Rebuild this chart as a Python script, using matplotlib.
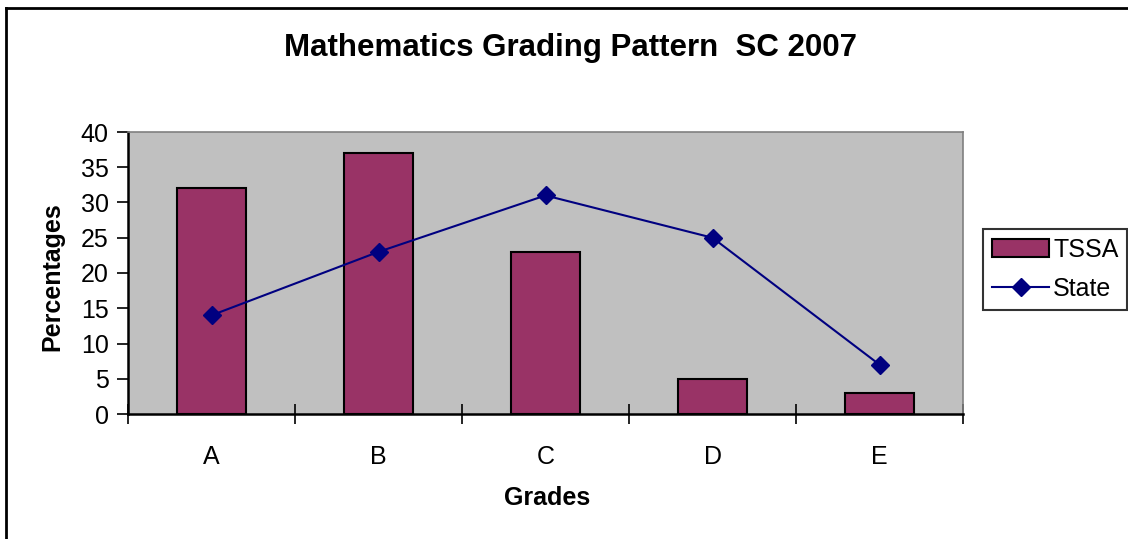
import matplotlib
matplotlib.use("Agg")
import matplotlib.pyplot as plt
from matplotlib.lines import Line2D
import numpy as np

plt.rcParams["font.family"] = ["Liberation Sans", "DejaVu Sans"]

grades = ["A", "B", "C", "D", "E"]
tssa = [32, 37, 23, 5, 3]
state = [14, 23, 31, 25, 7]
y_ticks = [0, 5, 10, 15, 20, 25, 30, 35, 40]

W, H = 1128, 539
fig = plt.figure(figsize=(W / 100, H / 100), dpi=100)
ax = fig.add_axes([128 / W, 1 - 414 / H, (963 - 128) / W, (414 - 132) / H])
ax.set_facecolor("#C0C0C0")

x = np.arange(len(grades))
bars = ax.bar(x, tssa, width=0.41, color="#993366", edgecolor="black",
              linewidth=1.5, label="TSSA", zorder=2)
line, = ax.plot(x, state, color="#000080", linewidth=1.5, marker="D",
                markersize=9, label="State", zorder=3)

ax.set_xlim(-0.5, len(grades) - 0.5)
ax.set_ylim(0, 40)
ax.set_yticks(y_ticks)
ax.tick_params(axis="y", direction="out", length=8, width=1.2, labelsize=18, pad=6)

ax.set_xticks(np.arange(len(grades) + 1) - 0.5)
ax.set_xticklabels([])
ax.set_xticks(x, minor=True)
ax.set_xticklabels(grades, minor=True)
ax.tick_params(axis="x", which="major", direction="inout", length=14, width=1.2)
ax.tick_params(axis="x", which="minor", length=0, labelsize=18, pad=22)

for side in ["top", "right"]:
    ax.spines[side].set_color("#808080")
    ax.spines[side].set_linewidth(1.2)
for side in ["left", "bottom"]:
    ax.spines[side].set_color("black")
    ax.spines[side].set_linewidth(1.8)

fig.text(571 / W, 1 - 48 / H, "Mathematics Grading Pattern  SC 2007",
         fontsize=22.5, fontweight="bold", ha="center", va="center")
fig.text(547 / W, 1 - 498 / H, "Grades", fontsize=18, fontweight="bold",
         ha="center", va="center")
fig.text(52 / W, 1 - 277 / H, "Percentages", fontsize=18, fontweight="bold",
         ha="center", va="center", rotation=90)

leg = fig.legend([bars, line], ["TSSA", "State"], loc="upper left",
                 bbox_to_anchor=(983 / W, 1 - 229 / H),
                 fontsize=18, frameon=True, fancybox=False, borderpad=0.35,
                 handlelength=2.3, handletextpad=0.15, labelspacing=0.6,
                 borderaxespad=0)
leg.get_frame().set_edgecolor("black")
leg.get_frame().set_linewidth(1.5)

# outer chart frame (left and top edges visible)
fig.add_artist(Line2D([6 / W, 6 / W], [0, 1 - 8 / H], color="black",
                      linewidth=2, transform=fig.transFigure))
fig.add_artist(Line2D([6 / W, 1], [1 - 8 / H, 1 - 8 / H], color="black",
                      linewidth=2, transform=fig.transFigure))

fig.savefig("out.png", dpi=100)
